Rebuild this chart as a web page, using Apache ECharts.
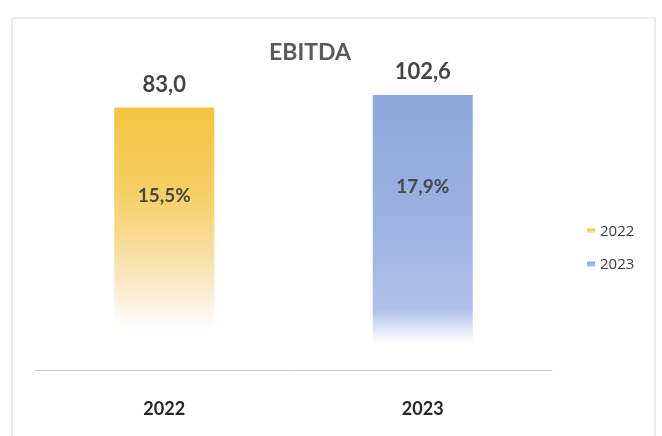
<!DOCTYPE html>
<html>
<head>
<meta charset="utf-8">
<script src="https://cdn.jsdelivr.net/npm/echarts@6/dist/echarts.min.js"></script>
<style>
  html, body { margin: 0; padding: 0; background: #fff; }
  #chart { width: 662px; height: 436px; }
</style>
</head>
<body>
<div id="chart"></div>
<script>
// data
const years = ['2022', '2023']
const ebitda = [83.0, 102.6]
const margin = [15.5, 17.9]

// one colour ramp per year, top → bottom fade
const ramps = {
  2022: [['#f4c53f', 0], ['#f6cf66', 0.33], ['#f8dea2', 0.55], ['#fbeed6', 0.72], ['#ffffff', 0.84]],
  2023: [['#8ea8dc', 0], ['#9bb2e2', 0.45], ['#b0c0ea', 0.78], ['#e4e9f7', 0.86], ['#ffffff', 0.9]],
}

const fmt = v => v.toFixed(1).replace('.', ',')

function gradient(year) {
  return {
    type: 'linear', x: 0, y: 0, x2: 0, y2: 1,
    colorStops: ramps[year].map(([color, offset]) => ({ offset, color })),
  }
}

const chart = echarts.init(document.getElementById('chart'))

// each year sits in its own category slot
const seriesFor = (i) => years.map((_, j) => (i === j ? ebitda[i] : null))

const series = []
years.forEach((year, i) => {
  series.push({
    name: year,
    type: 'bar',
    barWidth: 100,
    barGap: '-100%',
    data: seriesFor(i),
    itemStyle: { color: gradient(year) },
    label: {
      show: true,
      position: 'top',
      distance: 12,
      formatter: p => fmt(p.value),
      color: '#444',
      fontSize: 22,
      fontWeight: 'bold',
      fontFamily: 'Lato',
    },
  })
})
// percentage labels inside the bars
series.push({
  type: 'bar',
  barWidth: 100,
  barGap: '-100%',
  silent: true,
  data: ebitda,
  itemStyle: { color: 'rgba(0,0,0,0)' },
  label: {
    show: true,
    position: ['50%', '30%'],
    align: 'center',
    formatter: p => fmt(margin[p.dataIndex]) + '%',
    color: '#474747',
    fontSize: 19,
    fontWeight: 'bold',
    fontFamily: 'Lato',
  },
})

chart.setOption({
  animation: false,
  title: {
    text: 'EBITDA',
    left: 305,
    top: 36,
    textAlign: 'center',
    textStyle: { color: '#5a5a5a', fontSize: 23, fontWeight: 'bold', fontFamily: 'Lato' },
  },
  legend: {
    data: years,
    orient: 'vertical',
    left: 582,
    top: 219,
    itemGap: 18,
    icon: 'rect',
    itemWidth: 8,
    itemHeight: 6,
    textStyle: { color: '#404040', fontSize: 15, fontFamily: 'Open Sans' },
  },
  grid: { left: 35, right: 110, top: 95, bottom: 66 },
  xAxis: {
    type: 'category',
    data: years,
    axisTick: { show: false },
    axisLine: { lineStyle: { color: '#cfcfcf', width: 1 } },
    axisLabel: { margin: 30, color: '#262626', fontSize: 18, fontWeight: 'bold', fontFamily: 'Lato' },
  },
  yAxis: {
    type: 'log',
    min: 1,
    max: Math.max(...ebitda),
    show: false,
    splitLine: { show: false },
  },
  graphic: [{
    type: 'rect',
    shape: { x: 12, y: 18, width: 643, height: 422 },
    style: { fill: 'none', stroke: '#d9d9d9', lineWidth: 1 },
    silent: true,
    z: -1,
  }],
  series,
})
</script>
</body>
</html>
